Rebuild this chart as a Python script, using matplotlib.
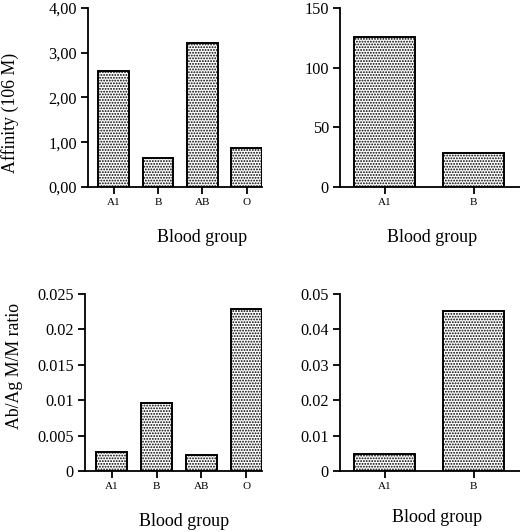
import matplotlib
matplotlib.use('Agg')
import matplotlib.pyplot as plt

plt.rcParams['font.family'] = ['Liberation Serif', 'DejaVu Serif']
plt.rcParams['hatch.linewidth'] = 0.9
plt.rcParams['hatch.color'] = '#555555'

groups4 = ['A1', 'B', 'AB', 'O']
groups2 = ['A1', 'B']
affinity4 = [2.59, 0.65, 3.22, 0.87]
affinity2 = [125.7, 28.5]
ratio4 = [0.0027, 0.0096, 0.0023, 0.0229]
ratio2 = [0.0048, 0.0452]

fig = plt.figure(figsize=(5.2, 5.32), dpi=100)

def panel(rect, cats, vals, ylim, yticks, yticklabels, xlim, width):
    ax = fig.add_axes(rect)
    ax.bar(range(len(cats)), vals, width=width, color='white',
           edgecolor='black', linewidth=1.4, hatch='......')
    ax.set_xlim(*xlim)
    ax.set_ylim(*ylim)
    ax.set_yticks(yticks)
    ax.set_yticklabels(yticklabels, fontsize=11.7)
    ax.set_xticks(range(len(cats)))
    ax.set_xticklabels(cats, fontsize=8)
    for s in ['top', 'right']:
        ax.spines[s].set_visible(False)
    for s in ['left', 'bottom']:
        ax.spines[s].set_linewidth(1.3)
    ax.tick_params(width=1.3, length=5, pad=3)
    return ax

panel([0.169, 0.6485, 0.335, 0.3365], groups4, affinity4, (0, 4),
      [0, 1, 2, 3, 4], ['0,00', '1,00', '2,00', '3,00', '4,00'],
      (-0.58, 3.35), 0.69)
panel([0.654, 0.6485, 0.346, 0.3365], groups2, affinity2, (0, 150),
      [0, 50, 100, 150], ['0', '50', '100', '150'],
      (-0.5, 1.52), 0.68)
panel([0.163, 0.1147, 0.341, 0.3327], groups4, ratio4, (0, 0.025),
      [0, 0.005, 0.01, 0.015, 0.02, 0.025],
      ['0', '0.005', '0.01', '0.015', '0.02', '0.025'],
      (-0.6, 3.35), 0.69)
panel([0.654, 0.1147, 0.346, 0.3327], groups2, ratio2, (0, 0.05),
      [0, 0.01, 0.02, 0.03, 0.04, 0.05],
      ['0', '0.01', '0.02', '0.03', '0.04', '0.05'],
      (-0.5, 1.52), 0.68)

fig.text(10 / 520, 1 - 113 / 532, 'Affinity (106 M)', rotation=90,
         ha='center', va='center', fontsize=12.8)
fig.text(15 / 520, 1 - 366 / 532, 'Ab/Ag M/M ratio', rotation=90,
         ha='center', va='center', fontsize=12.8)
fig.text(202 / 520, 1 - 237 / 532, 'Blood group', ha='center', va='center', fontsize=13)
fig.text(432 / 520, 1 - 237 / 532, 'Blood group', ha='center', va='center', fontsize=13)
fig.text(184 / 520, 1 - 521 / 532, 'Blood group', ha='center', va='center', fontsize=13)
fig.text(437 / 520, 1 - 518 / 532, 'Blood group', ha='center', va='center', fontsize=13)

fig.savefig('out.png', dpi=100)
